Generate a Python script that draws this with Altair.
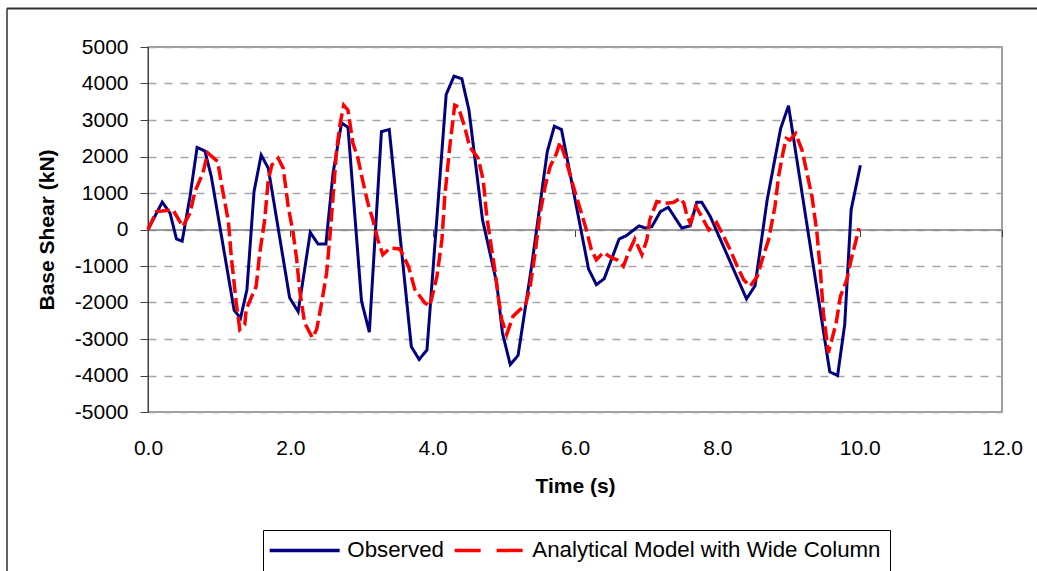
import altair as alt
import pandas as pd

# Measured base shear (kN) against time (s)
obs_time = [0.00, 0.20, 0.31, 0.40, 0.48, 0.59, 0.69, 0.80, 0.89, 1.21, 1.30, 1.39,
            1.49, 1.59, 1.69, 1.99, 2.11, 2.28, 2.39, 2.50, 2.60, 2.72, 2.81, 3.00,
            3.11, 3.28, 3.39, 3.70, 3.81, 3.92, 4.19, 4.30, 4.41, 4.51, 4.70, 4.90,
            4.98, 5.09, 5.20, 5.39, 5.61, 5.71, 5.81, 6.19, 6.30, 6.41, 6.62, 6.72,
            6.90, 6.99, 7.08, 7.20, 7.31, 7.50, 7.62, 7.71, 7.78, 7.90, 8.41, 8.53,
            8.70, 8.89, 9.00, 9.58, 9.69, 9.79, 9.88, 10.01]
obs_shear = [0, 750, 450, -260, -320, 900, 2250, 2150, 1450, -2210, -2430, -1650,
             1040, 2040, 1680, -1870, -2250, -80, -400, -400, 1540, 2920, 2800, -1960,
             -2810, 2680, 2740, -3210, -3560, -3300, 3700, 4200, 4130, 3270, 270, -1470,
             -2830, -3700, -3450, -1010, 2130, 2830, 2740, -1080, -1510, -1350, -260, -170,
             100, 40, 80, 490, 610, 40, 100, 750, 750, 360, -1900, -1540,
             810, 2770, 3390, -3900, -4000, -2600, 540, 1760]

# Analytical model (wide column) base shear (kN) against time (s)
model_time = [0.00, 0.12, 0.35, 0.49, 0.59, 0.66, 0.77, 0.84, 0.98, 1.03, 1.13, 1.17,
              1.24, 1.29, 1.36, 1.38, 1.52, 1.57, 1.64, 1.69, 1.74, 1.83, 1.90, 1.97,
              2.04, 2.09, 2.13, 2.20, 2.31, 2.37, 2.44, 2.51, 2.56, 2.60, 2.65, 2.70,
              2.75, 2.81, 2.88, 2.95, 3.02, 3.09, 3.16, 3.23, 3.30, 3.40, 3.54, 3.66,
              3.75, 3.89, 3.96, 4.06, 4.13, 4.17, 4.24, 4.31, 4.36, 4.45, 4.52, 4.64,
              4.71, 4.76, 4.83, 4.88, 4.92, 4.97, 5.04, 5.13, 5.23, 5.30, 5.37, 5.44,
              5.51, 5.58, 5.65, 5.74, 5.79, 5.86, 5.95, 6.02, 6.09, 6.16, 6.23, 6.30,
              6.40, 6.52, 6.59, 6.68, 6.75, 6.84, 6.94, 7.01, 7.05, 7.15, 7.27, 7.38,
              7.48, 7.53, 7.57, 7.62, 7.70, 7.78, 7.88, 7.99, 8.09, 8.18, 8.28, 8.37,
              8.46, 8.56, 8.63, 8.72, 8.81, 8.86, 8.93, 8.97, 9.02, 9.10, 9.19, 9.26,
              9.33, 9.40, 9.45, 9.49, 9.56, 9.61, 9.67, 9.73, 9.82, 9.89, 9.94, 9.99]
model_shear = [0, 490, 540, 80, 450, 1040, 1540, 2100, 1860, 1270, 220, -740,
               -2010, -2740, -2600, -2190, -1555, -645, 265, 1360, 1765, 1950, 1680, 630,
               -100, -830, -1645, -2555, -2965, -2740, -2010, -1190, -100, 900, 2175, 2905,
               3405, 3270, 2360, 1950, 1310, 720, 265, -280, -690, -510, -535, -1010,
               -1645, -2010, -2100, -1285, -280, 900, 2265, 3405, 3360, 2810, 2265, 1950,
               1360, 355, -555, -1190, -1830, -2465, -2875, -2375, -2190, -2100, -1555, -645,
               450, 1175, 1720, 2085, 2400, 1995, 1360, 900, 450, -10, -555, -830,
               -630, -780, -830, -1010, -645, -262, -690, -280, 265, 765, 720, 740,
               855, 720, 400, 175, 630, 355, -10, 190, -190, -555, -1010, -1375,
               -1555, -1285, -830, -280, 630, 1450, 2175, 2495, 2450, 2630, 2175, 1540,
               900, -100, -1190, -2285, -3375, -3010, -2555, -1830, -1375, -740, -370, 40]

series_names = ["Observed", "Analytical Model with Wide Column"]
series_colors = ["#000080", "#FF0000"]
legend_dashes = [[1, 0], [26, 16]]
x_ticks = [0, 2, 4, 6, 8, 10, 12]
y_ticks = [-5000, -4000, -3000, -2000, -1000, 0, 1000, 2000, 3000, 4000, 5000]

FONT = "Liberation Sans"

obs_df = pd.DataFrame({"time": obs_time, "shear": obs_shear, "series": series_names[0]})
model_df = pd.DataFrame({"time": model_time, "shear": model_shear, "series": series_names[1]})

x_scale = alt.Scale(domain=[0, 12], nice=False, zero=False)
y_scale = alt.Scale(domain=[-5000, 5000], nice=False)

# x axis sits on the zero line (ticks hang below it), labels drop to the bottom edge
x_axis = alt.Axis(
    values=x_ticks, format=".1f", title="Time (s)", grid=False,
    offset=-182.5, domainColor="#808080", domainWidth=1.5,
    ticks=True, tickSize=7, tickColor="#404040", tickWidth=1,
    labelPadding=201, labelFlush=False, labelOverlap=False,
    labelFont=FONT, labelFontSize=21, labelColor="black",
    titleFont=FONT, titleFontSize=21, titleFontWeight="bold", titleColor="black",
    titleX=427, titleY=257, titleBaseline="middle", titleAlign="center",
)
y_axis = alt.Axis(
    values=y_ticks, title="Base Shear (kN)", labelExpr="'' + datum.value",
    grid=True, gridDash=[8, 8], gridColor="#a6a6a6", gridWidth=1.3,
    domainColor="#404040", domainWidth=1, tickColor="#404040", tickSize=8, tickWidth=1,
    labelPadding=12, labelFlush=False, labelOverlap=False,
    labelFont=FONT, labelFontSize=21, labelColor="black",
    titleFont=FONT, titleFontSize=21, titleFontWeight="bold", titleColor="black",
    titleX=-101, titleY=182.5, titleAngle=270, titleBaseline="middle", titleAlign="center",
)

# long horizontal legend swatch: a line drawn past the unit box, so the row stays short
legend = alt.Legend(
    title=None, orient="none", legendX=115, legendY=483, direction="horizontal",
    symbolType="M-5,0H5", symbolSize=196, symbolStrokeWidth=3.5, symbolOffset=21.5,
    labelFont=FONT, labelFontSize=22.3, labelColor="black", labelLimit=0,
    labelOffset=31.5, columnPadding=3, padding=9,
    strokeColor="black", fillColor="white",
)
color = alt.Color("series:N", scale=alt.Scale(domain=series_names, range=series_colors),
                  legend=legend)
dash = alt.StrokeDash("series:N", scale=alt.Scale(domain=series_names, range=legend_dashes),
                      legend=legend)

x_enc = alt.X("time:Q", scale=x_scale, axis=x_axis)
y_enc = alt.Y("shear:Q", scale=y_scale, axis=y_axis)

observed = alt.Chart(obs_df).mark_line(strokeWidth=3).encode(
    x=x_enc, y=y_enc, color=color, strokeDash=dash,
)
model = alt.Chart(model_df).mark_line(strokeWidth=3.5, strokeDash=[14, 5]).encode(
    x=x_enc, y=y_enc, color=color,
)

# outer chart-area frame (left and top edges)
frame_left = alt.Chart().mark_rule(color="#303030", strokeWidth=1.5).encode(
    x=alt.value(-141), y=alt.value(-38.5), y2=alt.value(600))
frame_top = alt.Chart().mark_rule(color="#303030", strokeWidth=2).encode(
    x=alt.value(-141), x2=alt.value(1000), y=alt.value(-38.5))

chart = alt.layer(frame_left, frame_top, observed, model).properties(
    width=854, height=365,
    padding={"left": 148, "top": 47, "right": 35, "bottom": 159},
    autosize=alt.AutoSizeParams(type="none"),
    background="white",
).configure_view(stroke="#808080", strokeWidth=1.5)

chart.save("out.html", embed_options={"renderer": "svg", "actions": False})
